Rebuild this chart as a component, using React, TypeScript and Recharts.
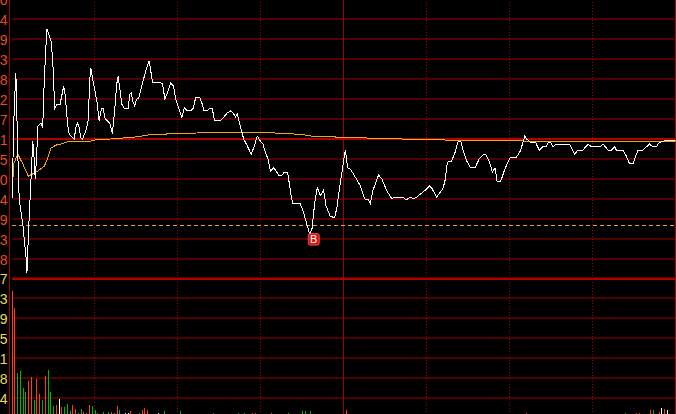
import {
  ComposedChart,
  Line,
  Bar,
  XAxis,
  YAxis,
  CartesianGrid,
  ReferenceLine,
  ReferenceDot,
} from "recharts";

// minute index (0 = 9:30, 120 = 11:30/13:00, 240 = 15:00) and last price
const priceMin = [
  0, 0.8, 1.4, 2.1, 2.6, 3.9, 5.1, 5.4, 6.1, 6.9,
  7.5, 7.9, 8.4, 9.0, 9.3, 10.5, 11.1, 11.7, 12.6, 13.5,
  14.1, 14.7, 15.3, 15.5, 16.2, 17.4, 18.7, 19.2, 20.1, 20.7,
  21.9, 22.5, 23.1, 23.7, 24.3, 24.9, 25.5, 26.7, 27.5, 28.2,
  28.5, 29.1, 30.0, 30.7, 31.5, 32.4, 33.0, 33.6, 34.5, 35.5,
  36.3, 37.2, 37.9, 38.4, 39.1, 39.7, 40.5, 42.0, 42.7, 43.2,
  43.6, 44.4, 45.1, 45.9, 47.2, 48.4, 49.6, 50.2, 50.8, 54.4,
  55.3, 56.2, 57.4, 58.4, 59.2, 59.8, 60.7, 61.4, 62.0, 62.4,
  63.4, 64.6, 65.6, 66.4, 68.0, 68.8, 69.4, 70.6, 71.6, 72.4,
  73.3, 75.4, 76.6, 77.8, 79.0, 80.0, 80.8, 81.5, 82.4, 83.8,
  85.1, 86.5, 87.7, 88.7, 89.9, 90.8, 91.7, 92.5, 93.5, 94.7,
  96.5, 97.7, 98.5, 99.7, 100.7, 101.5, 104.3, 105.5, 106.5, 107.7,
  108.5, 109.1, 109.7, 110.5, 111.5, 112.7, 113.6, 115.1, 116.7, 117.5,
  118.5, 119.4, 120.2, 120.6, 121.4, 122.3, 123.5, 124.8, 126.0, 127.5,
  129.0, 129.6, 130.5, 131.4, 132.6, 133.8, 135.6, 137.4, 138.6, 141.4,
  142.6, 144.0, 145.2, 146.4, 148.2, 150.0, 151.0, 151.8, 153.6, 155.8,
  156.6, 157.5, 159.0, 160.2, 161.4, 162.3, 163.2, 164.5, 165.9, 167.5,
  169.0, 170.5, 171.4, 172.6, 173.8, 174.7, 175.5, 176.7, 178.3, 180.1,
  180.7, 182.5, 183.9, 185.5, 186.1, 187.9, 189.5, 190.7, 191.9, 193.1,
  193.9, 194.9, 195.7, 196.9, 201.7, 203.5, 204.7, 206.5, 208.4, 209.6,
  212.6, 213.8, 215.6, 216.8, 218.0, 218.6, 221.0, 222.2, 223.4, 224.6,
  226.4, 228.2, 230.6, 231.8, 233.0, 234.0, 235.4, 237.8, 240,
];
const priceVal = [
  12.344, 12.596, 12.693, 12.468, 12.344, 12.274, 12.18, 12.138, 12.274, 12.402,
  12.504, 12.468, 12.399, 12.477, 12.546, 12.554, 12.541, 12.679, 12.815, 12.796,
  12.782, 12.735, 12.624, 12.596, 12.607, 12.607, 12.657, 12.635, 12.552, 12.524,
  12.513, 12.51, 12.541, 12.554, 12.541, 12.513, 12.51, 12.532, 12.56, 12.679,
  12.707, 12.679, 12.643, 12.615, 12.56, 12.596, 12.596, 12.568, 12.56, 12.552,
  12.524, 12.596, 12.663, 12.685, 12.643, 12.607, 12.596, 12.596, 12.635, 12.638,
  12.615, 12.602, 12.621, 12.624, 12.665, 12.699, 12.727, 12.699, 12.668, 12.665,
  12.621, 12.638, 12.665, 12.657, 12.621, 12.607, 12.588, 12.568, 12.588, 12.596,
  12.588, 12.588, 12.596, 12.624, 12.624, 12.607, 12.588, 12.588, 12.596, 12.596,
  12.56, 12.56, 12.571, 12.582, 12.588, 12.582, 12.571, 12.579, 12.552, 12.51,
  12.491, 12.468, 12.491, 12.518, 12.504, 12.496, 12.471, 12.457, 12.421, 12.43,
  12.41, 12.41, 12.418, 12.418, 12.366, 12.33, 12.33, 12.305, 12.277, 12.246,
  12.26, 12.305, 12.344, 12.377, 12.352, 12.369, 12.324, 12.296, 12.291, 12.319,
  12.374, 12.421, 12.463, 12.48, 12.43, 12.427, 12.413, 12.396, 12.38, 12.344,
  12.341, 12.33, 12.366, 12.385, 12.41, 12.399, 12.366, 12.344, 12.349, 12.349,
  12.341, 12.349, 12.344, 12.349, 12.36, 12.371, 12.38, 12.374, 12.349, 12.371,
  12.393, 12.446, 12.449, 12.471, 12.504, 12.504, 12.477, 12.449, 12.43, 12.43,
  12.455, 12.466, 12.466, 12.449, 12.418, 12.43, 12.391, 12.391, 12.427, 12.457,
  12.46, 12.46, 12.477, 12.518, 12.51, 12.499, 12.499, 12.479, 12.488, 12.488,
  12.499, 12.499, 12.488, 12.496, 12.496, 12.468, 12.479, 12.479, 12.496, 12.488,
  12.488, 12.496, 12.479, 12.479, 12.488, 12.479, 12.479, 12.463, 12.441, 12.441,
  12.479, 12.479, 12.496, 12.488, 12.488, 12.499, 12.504, 12.507, 12.507,
];

// average price line
const avgMin = [
  0, 0.6, 2.1, 3.9, 5.9, 7.5, 9.3, 11.7, 12.9, 14.1, 15.9, 17.7, 20.1, 27.3, 29.7, 35.7, 40.5,
  45.4, 49.0, 56.2, 68.2, 79.0, 94.1, 101.9, 106.1, 108.5, 115.1, 127.1, 141.0, 157.8, 183.7,
  185.5, 227.0, 240,
];
const avgVal = [
  12.346, 12.441, 12.468, 12.441, 12.407, 12.413, 12.421, 12.435, 12.457, 12.485, 12.493,
  12.496, 12.502, 12.502, 12.507, 12.51, 12.513, 12.516, 12.521, 12.524, 12.527, 12.529,
  12.527, 12.524, 12.521, 12.518, 12.516, 12.513, 12.51, 12.507, 12.507, 12.504, 12.504, 12.504,
];

// volume per minute, u = up (red), d = down (green), e = flat (white)
const volMin = [
  0, 1, 2, 3, 4, 5, 6, 7, 8, 9, 10, 11, 12, 13, 14, 15, 16, 17, 18, 19, 20, 21, 22, 23, 24, 25,
  26, 27, 28, 29, 30, 31, 32, 33, 34, 35, 36, 37, 38, 39, 40, 41, 42, 43, 44, 45, 46, 47, 48, 49, 50,
  53, 54, 55, 60, 61,
  69, 73, 82, 84, 85, 86, 87, 88,
  91, 92, 94, 95,
  100, 101, 102, 105, 106, 108, 109, 110,
  121,
  161, 162, 163, 164,
  186, 187, 196, 203, 216, 222,
  226, 227, 228, 229, 230, 231, 232, 233, 234, 235, 236, 237,
  240,
];
const volVal = [
  24.1, 20.9, 8.6, 8.9, 5.7, 4.9, 7.0, 7.8, 3.4, 7.4, 4.6, 3.4, 8.0, 9.1, 4.9, 2.3, 2.5, 3.6, 2.1,
  2.1, 2.7, 1.3, 2.5, 1.7, 1.0, 1.7, 1.1, 1.0, 2.5, 2.3, 1.5, 1.0, 0.8, 1.1, 0.8, 1.1, 1.1, 1.0,
  2.3, 1.5, 0.6, 1.0, 1.0, 1.3, 0.8, 0.8, 1.0, 1.5, 1.9, 1.5, 0.6,
  1.0, 0.8, 1.3, 0.6, 1.3,
  0.7, 1.0, 1.0, 1.0, 0.8, 0.6, 1.0, 1.0,
  0.6, 0.6, 1.0, 0.6,
  1.0, 0.6, 0.6, 1.3, 1.3, 1.3, 0.8, 0.8,
  1.5,
  0.6, 0.6, 0.6, 0.6,
  1.0, 0.6, 0.6, 0.6, 0.6, 1.0,
  1.0, 1.0, 0.8, 0.8, 0.6, 1.5, 1.5, 0.8, 1.1, 1.9, 1.7, 1.5,
  2.3,
];
const volDir = [
  "u", "u", "d", "d", "d", "d", "u", "u", "d", "u", "u", "d", "u", "d", "d", "d", "u", "e", "u",
  "d", "d", "d", "u", "u", "d", "d", "u", "u", "u", "d", "d", "d", "d", "d", "d", "d", "u", "u",
  "u", "d", "d", "e", "e", "u", "d", "u", "d", "u", "u", "u", "d",
  "e", "e", "d", "d", "d",
  "d", "d", "d", "d", "d", "d", "u", "u",
  "d", "d", "u", "d",
  "d", "d", "e", "d", "d", "d", "u", "u",
  "u",
  "u", "u", "e", "d",
  "u", "d", "d", "d", "d", "d",
  "u", "u", "e", "e", "u", "u", "d", "e", "u", "e", "u", "e",
  "e",
];

const priceTicks = [
  12.89857, 12.84306, 12.78755, 12.73204, 12.67653, 12.62102, 12.56551, 12.51,
  12.45449, 12.39898, 12.34347, 12.28796, 12.23245, 12.17694, 12.12143,
];
const volTicks = [3.8, 7.6, 11.4, 15.2, 19.0, 22.8, 26.6];
const prevClose = 12.51;
const costLine = 12.269;
const buyPoint = { m: 107.7, p: 12.246 };
const halfHours = [30, 60, 90, 150, 180, 210];

const priceData = priceMin.map((m, i) => ({ m, p: priceVal[i] }));
const avgData = avgMin.map((m, i) => ({ m, p: avgVal[i] }));
const volData = volMin.map((m, i) => ({ m, v: volVal[i], d: volDir[i] }));

const OFF = 60; // labels run off the left edge, like the cropped screenshot
const W = OFF + 676;
const FONT = "'Liberation Sans', Arial, sans-serif";
const GRID = "#a00000";
const DIR_COLOR: Record<string, string> = { u: "#ff3c14", d: "#00b800", e: "#ffffff" };

const PriceTick = (props: any) => {
  const { y, payload, index } = props;
  if (index === priceTicks.length - 1) return <g />;
  return (
    <text x={OFF + 7.5} y={y} dy={6} textAnchor="end" fill="#e84c1c" fontSize={14} fontFamily={FONT}>
      {payload.value.toFixed(2)}
    </text>
  );
};

const VolTick = (props: any) => {
  const { y, payload } = props;
  return (
    <text x={OFF + 7.5} y={y} dy={6} textAnchor="end" fill="#ecdc50" fontSize={14} fontFamily={FONT}>
      {Math.round(payload.value)}
    </text>
  );
};

const VolBar = (props: any) => {
  const { x, width, y, height, payload } = props;
  if (!height || height <= 0) return <g />;
  return (
    <rect
      x={Math.floor(x + width / 2)}
      y={y}
      width={1}
      height={height}
      fill={DIR_COLOR[payload.d]}
      shapeRendering="crispEdges"
    />
  );
};

const BuyMark = (props: any) => {
  const { cx, cy } = props;
  return (
    <g>
      <rect x={cx - 1.5} y={cy - 0.5} width={11} height={11.5} rx={2} fill="#d81010" stroke="#ff6060" strokeWidth={0.8} />
      <text x={cx + 4} y={cy + 9} textAnchor="middle" fill="#ffffff" fontSize={11} fontFamily={FONT}>
        B
      </text>
    </g>
  );
};

export default function App() {
  return (
    <div
      style={{
        position: "fixed",
        left: 0,
        top: 0,
        width: 676,
        height: 414,
        overflow: "hidden",
        background: "#000",
      }}
    >
      {/* 分时价格 */}
      <div style={{ position: "absolute", left: -OFF, top: -11.5 }}>
        <ComposedChart width={W} height={300} margin={{ top: 10, right: 0.5, bottom: 10, left: 0 }}>
          <CartesianGrid vertical={false} stroke={GRID} />
          <XAxis type="number" dataKey="m" domain={[0, 240]} hide allowDataOverflow />
          <YAxis
            type="number"
            domain={[12.12143, 12.89857]}
            ticks={priceTicks}
            interval={0}
            width={OFF + 12}
            axisLine={false}
            tickLine={false}
            tick={PriceTick}
            allowDataOverflow
          />
          {halfHours.map((m) => (
            <ReferenceLine key={m} x={m} stroke={GRID} strokeDasharray="1 2" shapeRendering="crispEdges" />
          ))}
          <ReferenceLine x={120} stroke={GRID} shapeRendering="crispEdges" />
          <ReferenceLine x={240} stroke={GRID} shapeRendering="crispEdges" />
          <ReferenceLine x={-0.9} stroke={GRID} ifOverflow="visible" shapeRendering="crispEdges" />
          <ReferenceLine y={prevClose} stroke="#b00000" strokeWidth={2} />
          <ReferenceLine y={12.12143} stroke="#b00000" strokeWidth={2} />
          <ReferenceLine y={costLine} stroke="#e8a030" strokeDasharray="4 3" shapeRendering="crispEdges" />
          <Line
            data={avgData}
            dataKey="p"
            type="linear"
            stroke="#f0a818"
            strokeWidth={1}
            dot={false}
            shapeRendering="crispEdges"
            isAnimationActive={false}
          />
          <Line
            data={priceData}
            dataKey="p"
            type="linear"
            stroke="#ffffff"
            strokeWidth={1}
            dot={false}
            shapeRendering="crispEdges"
            isAnimationActive={false}
          />
          <ReferenceDot x={buyPoint.m} y={buyPoint.p} shape={BuyMark} />
        </ComposedChart>
      </div>

      {/* 成交量 */}
      <div style={{ position: "absolute", left: -OFF, top: 267.5 }}>
        <ComposedChart
          width={W}
          height={160}
          data={volData}
          margin={{ top: 10, right: 0.5, bottom: 10, left: 0 }}
        >
          <CartesianGrid vertical={false} stroke={GRID} />
          <XAxis type="number" dataKey="m" domain={[0, 240]} hide allowDataOverflow />
          <YAxis
            type="number"
            domain={[0, 26.6]}
            ticks={volTicks}
            interval={0}
            width={OFF + 12}
            axisLine={false}
            tickLine={false}
            tick={VolTick}
            allowDataOverflow
          />
          {halfHours.map((m) => (
            <ReferenceLine key={m} x={m} stroke={GRID} strokeDasharray="1 2" shapeRendering="crispEdges" />
          ))}
          <ReferenceLine x={120} stroke={GRID} shapeRendering="crispEdges" />
          <ReferenceLine x={240} stroke={GRID} shapeRendering="crispEdges" />
          <ReferenceLine x={-0.9} stroke={GRID} ifOverflow="visible" shapeRendering="crispEdges" />
          <Bar dataKey="v" barSize={1} shape={VolBar} isAnimationActive={false} />
        </ComposedChart>
      </div>
    </div>
  );
}
